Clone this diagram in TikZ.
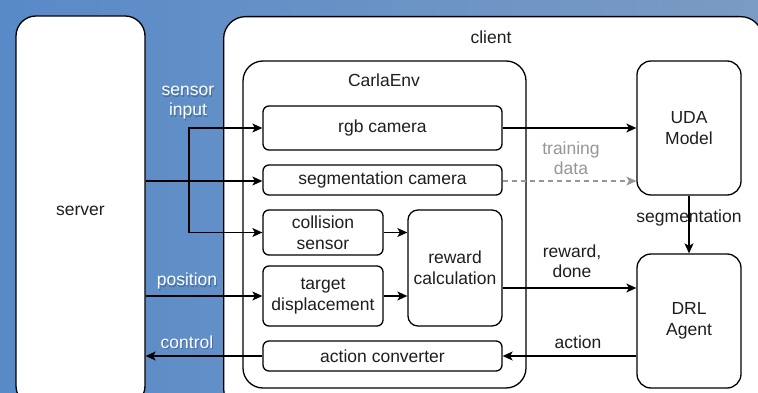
\documentclass[tikz,border=0pt]{standalone}
\usepackage{fontspec}
\setmainfont{Liberation Sans}
\usetikzlibrary{arrows.meta,calc}
\definecolor{bgL}{RGB}{88,138,200}
\definecolor{bgR}{RGB}{122,155,196}
\definecolor{txt}{RGB}{30,30,30}
\definecolor{tdgray}{RGB}{150,150,150}
\definecolor{shadowc}{RGB}{40,70,120}
\tikzset{
  box/.style={draw=black, line width=1.3pt, fill=white, rounded corners=#1, inner sep=0pt, align=center, text=txt},
  box/.default=6pt,
  arr/.style={draw=black, line width=1.2pt, -{Stealth[length=10pt,width=9pt,inset=2.5pt]}},
  garr/.style={draw=tdgray, line width=1.2pt, dashed, dash pattern=on 5pt off 4pt, -{Stealth[length=10pt,width=9pt,inset=2.5pt]}},
  wlbl/.style={text=white, align=center, font=\fontsize{17.5}{20}\selectfont},
  slbl/.style={text=shadowc, opacity=0.45, align=center, font=\fontsize{17.5}{20}\selectfont},
  lbl/.style={text=txt, align=center, font=\fontsize{17.5}{20}\selectfont},
}
\begin{document}
\begin{tikzpicture}[x=1pt,y=-1pt, font=\fontsize{17.5}{21}\selectfont]
\useasboundingbox (0,0) rectangle (758,393);
\clip (0,0) rectangle (758,393);
\shade[left color=bgL, right color=bgR] (0,0) rectangle (758,393);
% big containers
\node[box=20pt, minimum width=129pt, minimum height=390pt] (server) at (80.5,211) {server};
\node[box=22pt, minimum width=539pt, minimum height=394pt, anchor=north west] (client) at (223,16) {};
\node[lbl] (clientlbl) at (491,37) {client};
\node[box=20pt, minimum width=283pt, minimum height=327pt] (env) at (384.5,224.5) {};
\node[lbl] (envlbl) at (384,80) {CarlaEnv};
% inner boxes
\node[box, minimum width=239pt, minimum height=44pt] (rgb) at (382.5,128) {rgb camera};
\node[box, minimum width=239pt, minimum height=30pt] (seg) at (382.5,180) {segmentation camera};
\node[box, minimum width=120pt, minimum height=45pt] (coll) at (323,232.5) {collision\\sensor};
\node[box, minimum width=120pt, minimum height=60pt] (targ) at (323,296) {target\\displacement};
\node[box=10pt, minimum width=94pt, minimum height=116pt] (rew) at (455,268) {reward\\calculation};
\node[box, minimum width=239pt, minimum height=30pt] (conv) at (382.5,356) {action converter};
\node[box=14pt, minimum width=104pt, minimum height=134pt] (uda) at (689,128) {UDA\\Model};
\node[box=14pt, minimum width=104pt, minimum height=134pt] (drl) at (689,321) {DRL\\Agent};
% connectors
\coordinate (bus) at (189,181);
\coordinate (segin) at (server.east |- 0,181);
\draw[arr] (segin) -- (seg.west |- segin);
\draw[arr] (bus) |- (rgb.west);
\draw[arr] (bus) |- (coll.west);
\draw[arr] (server.east |- targ.west) -- (targ.west);
\draw[arr] (conv.west) -- (server.east |- conv.west);
\draw[arr] (rgb.east) -- (uda.west |- rgb.east);
\draw[garr] (seg.east |- segin) -- (uda.west |- segin);
\draw[arr] (coll.east) -- (rew.west |- coll.east);
\draw[arr] (targ.east) -- (rew.west |- targ.east);
\coordinate (rewout) at (rew.east |- 0,288);
\draw[arr] (rewout) -- (drl.west |- rewout);
\draw[arr] (drl.west |- conv.east) -- (conv.east);
\draw[arr] (uda.south) -- (drl.north);
% labels
\node[slbl] at (189,104.5) {sensor\\input};
\node[wlbl] (lsens) at (188,103) {sensor\\input};
\node[slbl] at (188,282.5) {position};
\node[wlbl] (lpos) at (187,281) {position};
\node[slbl] at (188,343.5) {control};
\node[wlbl] (lctl) at (187,342) {control};
\node[lbl, text=tdgray] (ltrain) at (571,158) {training\\data};
\node[lbl] (lrew) at (572,261) {reward,\\done};
\node[lbl] (lact) at (578,342) {action};
\node[lbl] (lseg) at (689,218) {segmentation};
\end{tikzpicture}
\end{document}
